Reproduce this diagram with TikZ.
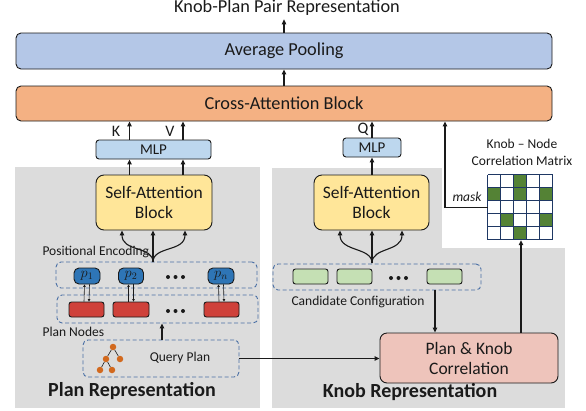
\documentclass[tikz,border=0pt]{standalone}
\usepackage{fontspec}
\setmainfont{Carlito}
\usetikzlibrary{arrows.meta,calc}
\definecolor{apblue}{HTML}{B4C7E7}
\definecolor{caorange}{HTML}{F4B183}
\definecolor{mlpblue}{HTML}{BDD7EE}
\definecolor{sayellow}{HTML}{FFE699}
\definecolor{pblue}{HTML}{2E75B6}
\definecolor{nred}{HTML}{CF413A}
\definecolor{cgreen}{HTML}{C5E0B4}
\definecolor{pkpink}{HTML}{EEC4BB}
\definecolor{panelgray}{HTML}{DCDCDC}
\definecolor{dashblue}{HTML}{4A6FA5}
\definecolor{matgreen}{HTML}{548235}
\definecolor{matnavy}{HTML}{1F3864}
\definecolor{treeorange}{HTML}{D2691E}
\definecolor{ink}{HTML}{1A1A1A}
\begin{document}
\begin{tikzpicture}[x=1pt,y=-1pt,
  every node/.style={text=ink},
  box/.style={draw=ink, line width=0.9pt, rounded corners=5pt, inner sep=0pt, align=center},
  bigtxt/.style={font=\fontsize{17.5}{20}\selectfont},
  toptxt/.style={font=\fontsize{18.3}{20}\selectfont},
  smalltxt/.style={font=\fontsize{13.5}{16}\selectfont},
  arr/.style={-{Triangle[length=5pt,width=4.5pt]}, line width=1.1pt, draw=ink},
  dbox/.style={draw=dashblue, dash pattern=on 4pt off 2.5pt, line width=0.9pt, rounded corners=5pt, inner sep=0pt},
  pbox/.style={box, fill=pblue, minimum height=16pt, font=\fontsize{14}{14}\selectfont},
  rbox/.style={box, fill=nred, rounded corners=2.5pt, minimum width=35pt, minimum height=15pt},
  gbox/.style={box, fill=cgreen, rounded corners=2.5pt, minimum width=35pt, minimum height=15pt},
  tinyarr/.style={-{Triangle[length=2.5pt,width=2.5pt]}, line width=0.6pt, draw=ink},
  dot/.style={circle, fill=ink, inner sep=0pt, minimum size=4pt},
  tnode/.style={circle, fill=treeorange, inner sep=0pt, minimum size=6.5pt},
  tedge/.style={draw=ink, line width=0.6pt}
]
\useasboundingbox (0,0) rectangle (586,410);
% panels
\fill[panelgray] (15,167) rectangle (260,408);
\fill[panelgray] (272,168) rectangle (565,408);
\fill[white] (442,160) rectangle (586,248);

% top
\node[toptxt] (title) at (287,8) {Knob-Plan Pair Representation};
\node[box, fill=apblue, minimum width=536pt, minimum height=36pt, toptxt] (ap) at (284,51) {Average Pooling};
\node[box, fill=caorange, minimum width=536pt, minimum height=35pt, toptxt] (ca) at (284,103.5) {Cross-Attention Block};
\draw[arr] (ap.north) -- (ap.north |- title.south);
\draw[arr] (ca.north) -- (ap.south);

% MLPs
\node[box, fill=mlpblue, rounded corners=3pt, minimum width=115pt, minimum height=19pt, font=\fontsize{15}{15}\selectfont] (mlp1) at (153.5,149.5) {MLP};
\node[box, fill=mlpblue, rounded corners=3pt, minimum width=58pt, minimum height=19pt, font=\fontsize{15}{15}\selectfont] (mlp2) at (372,147.5) {MLP};
\coordinate (kx) at (129.5,0);
\coordinate (vx) at (183,0);
\coordinate (qx) at (372,0);
\draw[arr] (mlp1.north -| kx) -- (ca.south -| kx);
\draw[arr] (mlp1.north -| vx) -- (ca.south -| vx);
\draw[arr] (mlp2.north -| qx) -- (ca.south -| qx);
\node[font=\fontsize{16}{16}\selectfont] (klab) at (116,131) {K};
\node[font=\fontsize{16}{16}\selectfont] (vlab) at (170,131) {V};
\node[font=\fontsize{16}{16}\selectfont] (qlab) at (363,129) {Q};

% Self-attention blocks
\node[box, fill=sayellow, rounded corners=8pt, minimum width=116pt, minimum height=55pt, bigtxt] (sa1) at (154,202.5) {Self-Attention\\Block};
\node[box, fill=sayellow, rounded corners=8pt, minimum width=115pt, minimum height=55pt, bigtxt] (sa2) at (371.5,202.5) {Self-Attention\\Block};
\draw[arr] (sa1.north -| kx) -- (mlp1.south -| kx);
\draw[arr] (sa1.north -| vx) -- (mlp1.south -| vx);
\draw[arr] (sa2.north -| qx) -- (mlp2.south -| qx);

% Plan side
\node[dbox, minimum width=201pt, minimum height=26pt] (pe) at (156.5,275) {};
\node[smalltxt, anchor=west] (pelab) at (39,252) {Positional Encoding};
\node[pbox, minimum width=26pt] (p1) at (87,276) {$p_1$};
\node[pbox, minimum width=25pt] (p2) at (131,276) {$p_2$};
\node[pbox, minimum width=26pt] (pn) at (221,276) {$p_n$};
\node[dot] (pd1) at (168,277) {};
\node[dot] (pd2) at (175.5,277) {};
\node[dot] (pd3) at (183,277) {};

\node[dbox, minimum width=201pt, minimum height=28pt] (pnodes) at (157.5,309) {};
\node[rbox] (r1) at (86.5,309.5) {};
\node[rbox, minimum width=36pt] (r2) at (131,309.5) {};
\node[rbox] (r3) at (221.5,309.5) {};
\node[dot] (rd1) at (168,311) {};
\node[dot] (rd2) at (175.5,311) {};
\node[dot] (rd3) at (183,311) {};
\foreach \p/\r in {p1/r1,p2/r2,pn/r3}{
  \draw[tinyarr] ([xshift=-2.5pt]\r.north) -- ([xshift=-2.5pt]\p.south);
  \draw[tinyarr] ([xshift=2.5pt]\p.south) -- ([xshift=2.5pt]\r.north);
}
\coordinate (m1) at (153,262);
\draw[arr] (m1) -- (sa1.south -| m1);
\draw[arr] (m1) .. controls (153,246) and (122,252) .. (sa1.south -| 122,0);
\draw[arr] (m1) .. controls (153,246) and (185,252) .. (sa1.south -| 185,0);

\node[smalltxt, anchor=west] (pnlab) at (39,332) {Plan Nodes};
\node[dbox, minimum width=156pt, minimum height=37pt] (qp) at (161,358.5) {};
\node[smalltxt] (qplab) at (180,358) {Query Plan};
% tree icon
\node[tnode] (t1) at (113,347) {};
\node[tnode] (t2) at (106,359) {};
\node[tnode] (t3) at (120,359) {};
\node[tnode] (t4) at (100,370) {};
\node[tnode] (t5) at (112,370) {};
\draw[tedge] (t1) -- (t2) (t1) -- (t3) (t2) -- (t4) (t2) -- (t5);
\draw[arr] (qp.north -| 162,0) -- (pnodes.south -| 162,0);

\node[font=\bfseries\fontsize{20}{20}\selectfont] (planrep) at (132,391) {Plan Representation};

% Knob side
\node[dbox, minimum width=208pt, minimum height=26pt] (cand) at (377,277) {};
\node[gbox] (g1) at (310.5,276.5) {};
\node[gbox] (g2) at (354.5,276.5) {};
\node[gbox] (g3) at (444.5,276.5) {};
\node[dot] (gd1) at (391,278) {};
\node[dot] (gd2) at (398.5,278) {};
\node[dot] (gd3) at (406,278) {};
\node[smalltxt] (candlab) at (358,302) {Candidate Configuration};
\coordinate (m2) at (372,263);
\draw[arr] (m2) -- (sa2.south -| m2);
\draw[arr] (m2) .. controls (372,247) and (340,252) .. (sa2.south -| 340,0);
\draw[arr] (m2) .. controls (372,247) and (402,252) .. (sa2.south -| 402,0);

\node[box, fill=pkpink, rounded corners=7pt, minimum width=178pt, minimum height=50pt, bigtxt] (pk) at (469,358) {Plan \& Knob\\Correlation};
\draw[arr] (cand.south -| 435,0) -- (pk.north -| 435,0);
\draw[arr] (qp.east) -- (pk.west |- qp.east);

\node[font=\bfseries\fontsize{20}{20}\selectfont] (knobrep) at (410,392) {Knob Representation};

% matrix
\node[inner sep=0pt, minimum width=65pt, minimum height=65pt] (mat) at (520.5,207.5) {};
\fill[white] (mat.north west) rectangle (mat.south east);
\foreach \r/\c in {1/3,2/1,2/3,2/5,4/2,4/5,5/3}{
  \fill[matgreen] ($(mat.north west)+(\c*13-13,\r*13-13)$) rectangle ++(13,13);
}
\foreach \i in {0,...,5}{
  \draw[matnavy, line width=1.2pt] ($(mat.north west)+(\i*13,0)$) -- ++(0,65);
  \draw[matnavy, line width=1.2pt] ($(mat.north west)+(0,\i*13)$) -- ++(65,0);
}
\node[align=center, font=\fontsize{13.5}{17}\selectfont] (matlab) at (522,152) {Knob -- Node\\Correlation Matrix};
\draw[arr] (pk.north -| 521,0) -- (mat.south -| 521,0);
\coordinate (mk) at (445,207.5);
\draw[arr] (mat.west) -- (mk) -- (ca.south -| mk);
\node[font=\itshape\fontsize{13.5}{16}\selectfont] (masklab) at (467,197) {mask};
\end{tikzpicture}
\end{document}
